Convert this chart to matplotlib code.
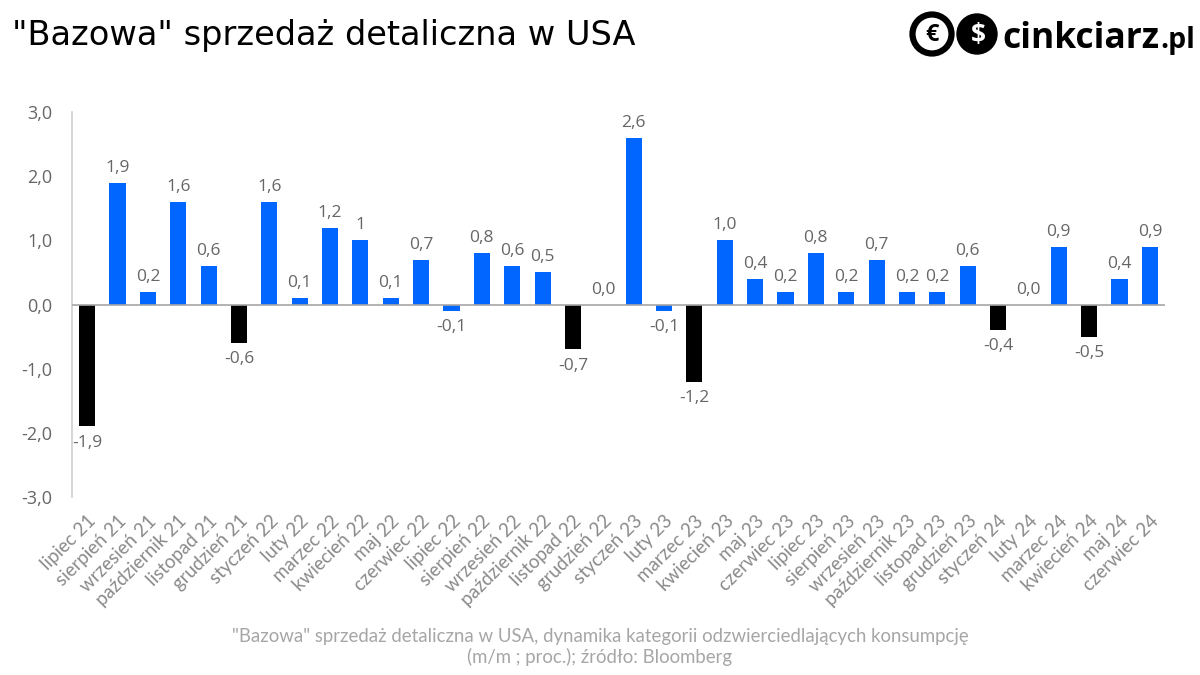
import matplotlib
matplotlib.use("Agg")
import matplotlib.pyplot as plt
import matplotlib.transforms as mtransforms
from matplotlib.patches import Circle
import numpy as np

categories = ["lipiec 21", "sierpień 21", "wrzesień 21", "październik 21", "listopad 21",
              "grudzień 21", "styczeń 22", "luty 22", "marzec 22", "kwiecień 22", "maj 22",
              "czerwiec 22", "lipiec 22", "sierpień 22", "wrzesień 22", "październik 22",
              "listopad 22", "grudzień 22", "styczeń 23", "luty 23", "marzec 23", "kwiecień 23",
              "maj 23", "czerwiec 23", "lipiec 23", "sierpień 23", "wrzesień 23",
              "październik 23", "listopad 23", "grudzień 23", "styczeń 24", "luty 24",
              "marzec 24", "kwiecień 24", "maj 24", "czerwiec 24"]
values = [-1.9, 1.9, 0.2, 1.6, 0.6, -0.6, 1.6, 0.1, 1.2, 1.0, 0.1, 0.7, -0.1, 0.8, 0.6, 0.5,
          -0.7, 0.0, 2.6, -0.1, -1.2, 1.0, 0.4, 0.2, 0.8, 0.2, 0.7, 0.2, 0.2, 0.6, -0.4, 0.0,
          0.9, -0.5, 0.4, 0.9]
value_labels = ["-1,9", "1,9", "0,2", "1,6", "0,6", "-0,6", "1,6", "0,1", "1,2", "1", "0,1",
                "0,7", "-0,1", "0,8", "0,6", "0,5", "-0,7", "0,0", "2,6", "-0,1", "-1,2", "1,0",
                "0,4", "0,2", "0,8", "0,2", "0,7", "0,2", "0,2", "0,6", "-0,4", "0,0", "0,9",
                "-0,5", "0,4", "0,9"]
yticks = [-3.0, -2.0, -1.0, 0.0, 1.0, 2.0, 3.0]
ytick_labels = ["-3,0", "-2,0", "-1,0", "0,0", "1,0", "2,0", "3,0"]

title = '"Bazowa" sprzedaż detaliczna w USA'
caption = ('"Bazowa" sprzedaż detaliczna w USA, dynamika kategorii odzwierciedlających konsumpcję\n'
           '(m/m ; proc.); źródło: Bloomberg')

BLUE = "#0066ff"
BLACK = "#000000"
GRAY = "#666666"

plt.rcParams['font.family'] = ['Lato', 'DejaVu Sans']

fig = plt.figure(figsize=(12, 6.75), dpi=100)
renderer = fig.canvas.get_renderer()


def fit_width(txt, target_px):
    bb = txt.get_window_extent(renderer=renderer)
    txt.set_fontsize(txt.get_fontsize() * target_px / bb.width)


ax = fig.add_axes([72 / 1200, 1 - 497 / 675, (1165 - 72) / 1200, (497 - 112) / 675])

x = np.arange(len(values))
colors = [BLACK if v <= -0.2 else BLUE for v in values]
ax.bar(x, values, width=0.53, color=colors, zorder=2)

for xi, v, lab in zip(x, values, value_labels):
    if v >= 0:
        ax.annotate(lab, (xi, v), xytext=(0, 5), textcoords="offset points",
                    ha="center", va="bottom", fontsize=12.5, color=GRAY,
                    family=['Open Sans', 'DejaVu Sans'])
    else:
        ax.annotate(lab, (xi, v), xytext=(0, -6), textcoords="offset points",
                    ha="center", va="top", fontsize=12.5, color=GRAY,
                    family=['Open Sans', 'DejaVu Sans'])

ax.set_xlim(-0.5, len(values) - 0.5)
ax.set_ylim(-3, 3)
ax.set_yticks(yticks)
ax.set_yticklabels(ytick_labels, fontsize=13, color=GRAY, family=['Open Sans', 'DejaVu Sans'])
ax.set_xticks(x)
ax.set_xticklabels(categories, rotation=45, ha="right", rotation_mode="anchor",
                   fontsize=13.5, color="#8a8a8a")
offset = mtransforms.ScaledTranslation(-4 / 100, -5 / 100, fig.dpi_scale_trans)
for lbl in ax.get_xticklabels():
    lbl.set_transform(lbl.get_transform() + offset)
ax.tick_params(axis="both", length=0)
ax.tick_params(axis="y", pad=14)
ax.tick_params(axis="x", pad=11)

for s in ["top", "right", "bottom"]:
    ax.spines[s].set_visible(False)
ax.spines["left"].set_color("#d0d0d0")
ax.spines["left"].set_linewidth(1.2)
ax.axhline(0, color="#a6a6a6", linewidth=1.2, zorder=3)

t = fig.text(12 / 1200, 1 - 36 / 675, title, fontsize=20, color="black", va="center",
             ha="left", family=['DejaVu Sans'])
fit_width(t, 625)
c = fig.text(600 / 1200, 1 - 647 / 675, caption, fontsize=12, color="#a6a6a6", ha="center",
             va="center", linespacing=1.25)
fit_width(c, 736)

# logo
lax = fig.add_axes([0, 0, 1, 1], zorder=-1)
lax.set_xlim(0, 1200)
lax.set_ylim(675, 0)
lax.axis("off")
lax.add_patch(Circle((977, 34), 20, color="black"))
lax.add_patch(Circle((932, 34), 19.5, facecolor="white", edgecolor="black", linewidth=4.5))
lax.text(932, 35, "€", fontsize=17, fontweight="bold", ha="center", va="center",
         family=['Open Sans', 'DejaVu Sans'])
lax.text(978, 35, "$", fontsize=19, fontweight="bold", ha="center", va="center", color="white",
         family=['Open Sans', 'DejaVu Sans'])
lt = lax.text(1002, 48, "cinkciarz", fontsize=25, fontweight="bold", ha="left",
              va="baseline", family=['Open Sans', 'DejaVu Sans'])
fit_width(lt, 157)
pt = lax.text(1195, 48, ".pl", fontsize=17, fontweight="bold", ha="right", va="baseline",
              family=['Open Sans', 'DejaVu Sans'])
fit_width(pt, 35)

fig.savefig("out.png", dpi=100)
